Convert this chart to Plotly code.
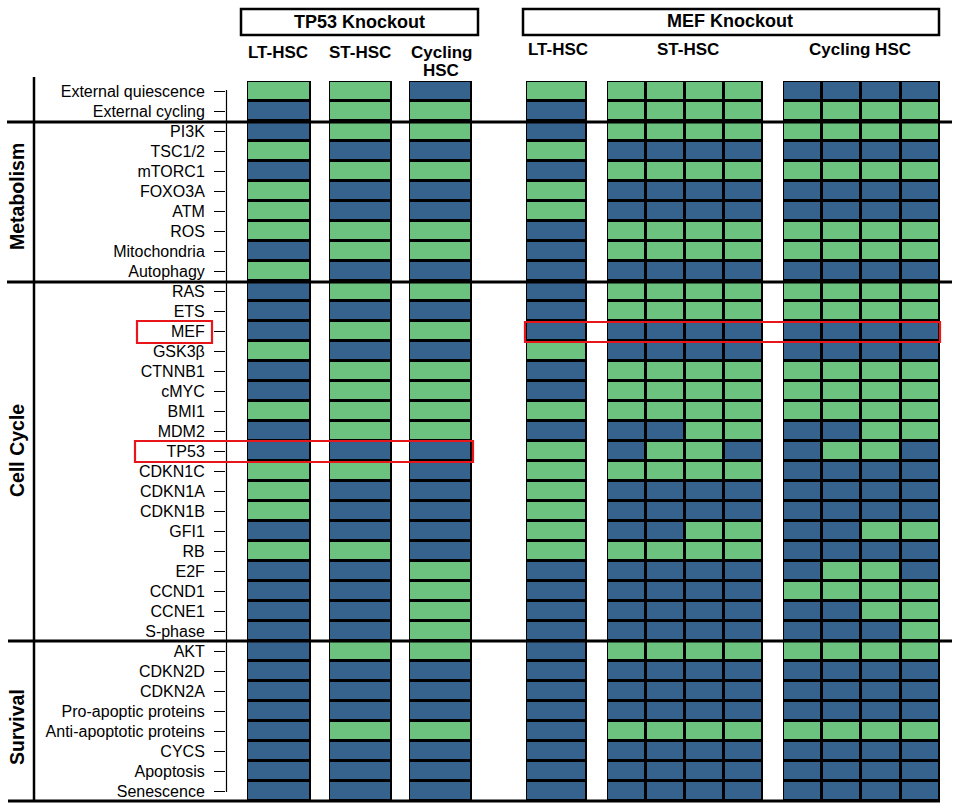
import plotly.graph_objects as go

# --- data: 1 = active (green), 0 = inactive (blue) ---
rows = ['External quiescence', 'External cycling', 'PI3K', 'TSC1/2', 'mTORC1', 'FOXO3A', 'ATM', 'ROS',
        'Mitochondria', 'Autophagy', 'RAS', 'ETS', 'MEF', 'GSK3β', 'CTNNB1', 'cMYC', 'BMI1', 'MDM2',
        'TP53', 'CDKN1C', 'CDKN1A', 'CDKN1B', 'GFI1', 'RB', 'E2F', 'CCND1', 'CCNE1', 'S-phase',
        'AKT', 'CDKN2D', 'CDKN2A', 'Pro-apoptic proteins', 'Anti-apoptotic proteins', 'CYCS',
        'Apoptosis', 'Senescence']

tp53_lt = [1, 0, 0, 1, 0, 1, 1, 1, 0, 1,
           0, 0, 0, 1, 0, 0, 1, 0, 0, 1, 1, 1, 0, 1, 0, 0, 0, 0,
           0, 0, 0, 0, 0, 0, 0, 0]
tp53_st = [1, 1, 1, 0, 1, 0, 0, 1, 1, 0,
           1, 0, 1, 0, 1, 1, 1, 1, 0, 1, 0, 0, 0, 1, 0, 0, 0, 0,
           1, 0, 0, 0, 1, 0, 0, 0]
tp53_cyc = [0, 1, 1, 0, 1, 0, 0, 1, 1, 0,
            1, 0, 1, 0, 1, 1, 1, 1, 0, 0, 0, 0, 0, 0, 1, 1, 1, 1,
            1, 0, 0, 0, 1, 0, 0, 0]
mef_lt = [1, 0, 0, 1, 0, 1, 1, 0, 0, 0,
          0, 0, 0, 1, 0, 0, 1, 0, 1, 1, 1, 1, 1, 1, 0, 0, 0, 0,
          0, 0, 0, 0, 0, 0, 0, 0]
mef_st_1 = [1, 1, 1, 0, 1, 0, 0, 1, 1, 0,
            1, 1, 0, 0, 1, 1, 1, 0, 0, 1, 0, 0, 0, 1, 0, 0, 0, 0,
            1, 0, 0, 0, 1, 0, 0, 0]
mef_st_2 = [1, 1, 1, 0, 1, 0, 0, 1, 1, 0,
            1, 1, 0, 0, 1, 1, 1, 0, 1, 1, 0, 0, 0, 1, 0, 0, 0, 0,
            1, 0, 0, 0, 1, 0, 0, 0]
mef_st_3 = [1, 1, 1, 0, 1, 0, 0, 1, 1, 0,
            1, 1, 0, 0, 1, 1, 1, 1, 1, 1, 0, 0, 1, 1, 0, 0, 0, 0,
            1, 0, 0, 0, 1, 0, 0, 0]
mef_st_4 = [1, 1, 1, 0, 1, 0, 0, 1, 1, 0,
            1, 1, 0, 0, 1, 1, 1, 1, 0, 1, 0, 0, 1, 1, 0, 0, 0, 0,
            1, 0, 0, 0, 1, 0, 0, 0]
mef_cyc_1 = [0, 1, 1, 0, 1, 0, 0, 1, 1, 0,
             1, 1, 0, 0, 1, 1, 1, 0, 0, 0, 0, 0, 0, 0, 0, 1, 0, 0,
             1, 0, 0, 0, 1, 0, 0, 0]
mef_cyc_2 = [0, 1, 1, 0, 1, 0, 0, 1, 1, 0,
             1, 1, 0, 0, 1, 1, 1, 0, 1, 0, 0, 0, 0, 0, 1, 1, 0, 0,
             1, 0, 0, 0, 1, 0, 0, 0]
mef_cyc_3 = [0, 1, 1, 0, 1, 0, 0, 1, 1, 0,
             1, 1, 0, 0, 1, 1, 1, 1, 1, 0, 0, 0, 1, 0, 1, 1, 1, 0,
             1, 0, 0, 0, 1, 0, 0, 0]
mef_cyc_4 = [0, 1, 1, 0, 1, 0, 0, 1, 1, 0,
             1, 1, 0, 0, 1, 1, 1, 1, 0, 0, 0, 0, 1, 0, 0, 1, 1, 1,
             1, 0, 0, 0, 1, 0, 0, 0]

columns = [tp53_lt, None, tp53_st, None, tp53_cyc, None, mef_lt, None,
           mef_st_1, mef_st_2, mef_st_3, mef_st_4, None,
           mef_cyc_1, mef_cyc_2, mef_cyc_3, mef_cyc_4]

sections = ['Metabolism', 'Cell Cycle', 'Survival']

# --- layout (pixel positions in a 957x811 page) ---
W, H = 957, 811
L, R, T, B = 226, 952, 81, 801
col_edges = [247, 311, 329, 392, 409, 472, 526, 587, 607, 646, 685, 724, 763, 783, 822, 861, 901, 940]

GREEN = '#6cc37f'
BLUE = '#36638e'
RED = '#e8161b'
FONT = 'Liberation Sans, Arial, sans-serif'


def px(x):
    return (x - L) / (R - L)


def py(y):
    return (B - y) / (B - T)


n = len(rows)
z = [[(c[i] if c is not None else None) for c in columns] for i in range(n)]
z_bg = [[(1 if c is not None else None) for c in columns] for i in range(n)]

fig = go.Figure()
# black under-layer so the cell gaps read as black borders
fig.add_trace(go.Heatmap(x=col_edges, y=list(range(n)), z=z_bg,
                         colorscale=[[0, 'black'], [1, 'black']], showscale=False,
                         hoverinfo='skip'))
fig.add_trace(go.Heatmap(x=col_edges, y=list(range(n)), z=z,
                         colorscale=[[0, BLUE], [0.5, BLUE], [0.5, GREEN], [1, GREEN]],
                         zmin=0, zmax=1, showscale=False, xgap=3, ygap=3,
                         customdata=[[r] * len(columns) for r in rows],
                         hovertemplate='%{customdata}: %{z}<extra></extra>'))

shapes = []
# section separators
for y, x0, x1 in [(122, 7, 952), (282, 7, 952), (641, 8, 952), (801, 8, 940)]:
    shapes.append(dict(type='line', xref='paper', yref='paper', x0=px(x0), x1=px(x1),
                       y0=py(y), y1=py(y), line=dict(color='black', width=3)))
# left vertical bar and tick axis line
shapes.append(dict(type='line', xref='paper', yref='paper', x0=px(34), x1=px(34),
                   y0=py(77), y1=py(801), line=dict(color='black', width=2.5)))
shapes.append(dict(type='line', xref='paper', yref='paper', x0=px(226.5), x1=px(226.5),
                   y0=py(90), y1=py(792), line=dict(color='black', width=1.2)))
# header boxes
for x0, x1 in [(241, 478), (523, 939)]:
    shapes.append(dict(type='rect', xref='paper', yref='paper', x0=px(x0), x1=px(x1),
                       y0=py(35), y1=py(9), line=dict(color='black', width=2.5),
                       fillcolor='white'))
# red highlight boxes
for x0, x1, y0, y1 in [(137, 212, 321, 343), (525, 940, 322, 342), (135, 473, 441, 462)]:
    shapes.append(dict(type='rect', xref='paper', yref='paper', x0=px(x0), x1=px(x1),
                       y0=py(y1), y1=py(y0), line=dict(color=RED, width=2.2)))

annotations = []
for text, x, y, size in [('TP53 Knockout', 359, 22, 18), ('MEF Knockout', 730, 21, 18),
                         ('LT-HSC', 278, 53, 17), ('ST-HSC', 360, 53, 17),
                         ('Cycling', 441, 53, 17), ('HSC', 441, 70, 17),
                         ('LT-HSC', 558, 50, 17), ('ST-HSC', 688, 50, 17),
                         ('Cycling HSC', 860, 50, 17)]:
    annotations.append(dict(text='<b>' + text + '</b>', xref='paper', yref='paper',
                            x=px(x), y=py(y), showarrow=False, xanchor='center',
                            yanchor='middle', font=dict(size=size, color='black', family=FONT)))
for text, y in zip(sections, [196, 450, 727]):
    annotations.append(dict(text='<b>' + text + '</b>', xref='paper', yref='paper',
                            x=px(17), y=py(y), showarrow=False, textangle=-90,
                            xanchor='center', yanchor='middle',
                            font=dict(size=19.5, color='black', family=FONT)))

fig.update_layout(
    width=W, height=H,
    margin=dict(l=L, r=W - R, t=T, b=H - B),
    paper_bgcolor='white', plot_bgcolor='white',
    xaxis=dict(range=[L, R], showgrid=False, zeroline=False, showticklabels=False,
               ticks='', showline=False, fixedrange=True),
    yaxis=dict(range=[n - 0.5, -0.5], tickvals=list(range(n)), ticktext=rows,
               ticks='outside', ticklen=11, tickwidth=1.3, tickcolor='black',
               ticklabelstandoff=6, showgrid=False, zeroline=False, showline=False,
               tickfont=dict(size=16, color='black', family=FONT), fixedrange=True),
    shapes=shapes,
    annotations=annotations,
    showlegend=False,
)

# drop the default page margin so the figure sits at the window origin
fig.write_html("out.html", config={'displayModeBar': False},
               post_script="document.body.style.margin = '0';")
